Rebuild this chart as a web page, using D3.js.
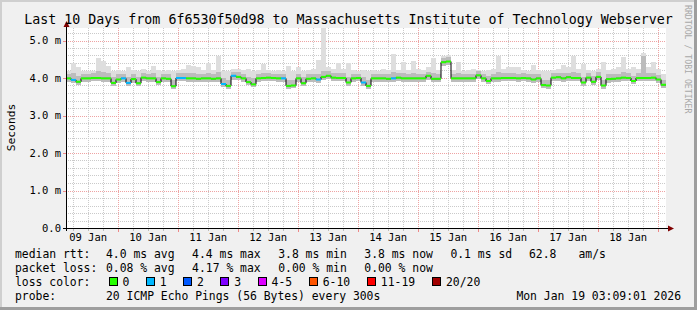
<!DOCTYPE html>
<html lang="en">
<meta charset="utf-8">
<style>
body { margin: 0; }
svg text { font-family: "DejaVu Sans Mono", monospace; white-space: pre; }
</style>
<body>
<svg width="697" height="310"></svg>
<script src="https://d3js.org/d3.v7.min.js"></script>
<script>

// median rtt (ms), one value every 2 hours from Jan 9 03:09 to Jan 19 03:09
var med = [
  3.99,3.95,3.90,3.99,3.99,4.00,4.00,3.99,3.99,3.87,
  3.96,3.99,3.87,3.97,3.86,4.01,3.99,3.99,3.89,3.99,
  3.98,3.78,4.00,4.00,3.99,3.99,3.98,3.99,3.99,3.98,
  3.99,3.84,3.79,4.06,4.03,3.99,3.89,3.83,3.99,4.00,
  4.01,4.00,3.99,3.99,3.79,3.80,3.99,3.86,3.98,3.99,
  3.96,4.03,4.06,4.01,4.00,4.00,3.88,3.99,4.00,3.88,
  3.79,3.99,3.99,3.99,3.98,3.99,4.01,3.99,3.99,3.99,
  3.99,3.99,4.06,3.98,3.98,4.42,4.44,3.99,3.99,3.99,
  3.99,3.99,4.07,3.99,3.92,3.99,3.99,4.00,4.00,4.00,
  3.99,4.00,3.99,3.96,3.99,3.81,3.80,4.01,4.02,3.99,
  4.02,4.00,4.00,3.88,4.01,3.90,4.03,3.80,3.97,3.98,
  3.99,4.01,4.00,3.92,4.00,4.00,4.00,4.01,3.96,3.82
];

// lost pings (of 20) per step
var loss = [
  0,1,0,0,0,0,0,0,0,0, 0,1,1,0,0,0,0,0,0,0,
  0,0,1,1,0,0,0,0,0,0, 0,1,0,1,0,0,0,0,0,0,
  0,0,0,1,0,0,0,0,0,0, 1,0,0,0,0,0,0,0,0,1,
  0,0,0,0,0,1,0,0,0,0, 0,0,0,0,0,0,0,0,0,0,
  0,0,0,0,0,0,0,0,0,0, 0,0,0,0,0,0,0,0,0,0,
  0,0,0,0,0,0,0,0,0,0, 0,0,0,0,0,0,0,0,0,0
];

// smoke: lowest ping, 90th percentile, highest ping
var lo = [
  3.90,3.86,3.82,3.90,3.90,3.91,3.91,3.90,3.90,3.80,
  3.87,3.90,3.79,3.88,3.78,3.92,3.90,3.90,3.81,3.90,
  3.89,3.72,3.91,3.91,3.90,3.90,3.89,3.90,3.90,3.89,
  3.90,3.76,3.72,3.96,3.94,3.90,3.81,3.76,3.90,3.91,
  3.92,3.91,3.90,3.90,3.72,3.73,3.90,3.79,3.89,3.90,
  3.87,3.94,3.97,3.92,3.91,3.91,3.80,3.90,3.91,3.80,
  3.72,3.90,3.90,3.90,3.89,3.90,3.92,3.90,3.90,3.90,
  3.90,3.90,3.96,3.89,3.89,4.32,4.34,3.90,3.90,3.90,
  3.90,3.90,3.97,3.90,3.84,3.90,3.90,3.91,3.91,3.91,
  3.90,3.91,3.90,3.87,3.90,3.73,3.72,3.92,3.93,3.90,
  3.93,3.91,3.91,3.80,3.92,3.82,3.94,3.72,3.88,3.89,
  3.90,3.92,3.91,3.84,3.91,3.91,3.91,3.92,3.87,3.74
];
var q90 = [
  4.12,4.14,4.06,4.12,4.12,4.13,4.18,4.16,4.14,4.02,
  4.10,4.12,4.04,4.10,4.02,4.14,4.12,4.13,4.04,4.12,
  4.11,3.95,4.13,4.13,4.14,4.14,4.12,4.12,4.14,4.11,
  4.15,4.00,3.95,4.17,4.15,4.12,4.04,3.99,4.12,4.14,
  4.13,4.12,4.12,4.12,3.96,3.96,4.12,4.02,4.11,4.12,
  4.12,4.20,4.18,4.13,4.14,4.13,4.04,4.12,4.12,4.04,
  3.95,4.12,4.12,4.12,4.11,4.15,4.13,4.14,4.12,4.14,
  4.12,4.12,4.17,4.14,4.11,4.54,4.56,4.12,4.14,4.12,
  4.12,4.12,4.18,4.12,4.06,4.12,4.16,4.13,4.14,4.13,
  4.12,4.13,4.12,4.12,4.12,3.96,3.95,4.13,4.14,4.13,
  4.14,4.15,4.13,4.04,4.13,4.05,4.15,3.96,4.10,4.11,
  4.12,4.16,4.13,4.06,4.13,4.60,4.14,4.14,4.09,3.96
];
var hi = [
  4.20,4.40,4.30,4.18,4.20,4.20,4.54,4.45,4.33,4.20,
  4.22,4.20,4.30,4.22,4.20,4.25,4.20,4.33,4.22,4.20,
  4.22,4.20,4.22,4.25,4.35,4.33,4.30,4.22,4.40,4.22,
  4.60,4.20,4.18,4.25,4.25,4.22,4.25,4.20,4.22,4.38,
  4.22,4.20,4.22,4.20,4.33,4.20,4.30,4.20,4.22,4.25,
  4.47,5.33,4.30,4.25,4.39,4.25,4.39,4.22,4.20,4.22,
  4.20,4.22,4.20,4.25,4.22,4.65,4.22,4.42,4.22,4.45,
  4.25,4.22,4.30,4.54,4.22,4.60,4.62,4.22,4.43,4.20,
  4.22,4.25,4.22,4.20,4.22,4.25,4.60,4.25,4.30,4.30,
  4.30,4.22,4.20,4.35,4.22,4.20,4.18,4.22,4.25,4.35,
  4.30,4.60,4.25,4.38,4.22,4.20,4.25,4.43,4.22,4.25,
  4.30,4.56,4.25,4.30,4.25,4.66,4.30,4.42,4.25,4.10
];

var lossLabels = ["0", "1", "2", "3", "4-5", "6-10", "11-19", "20/20"];
var lossColors = ["#26ff00", "#00b8ff", "#0059ff", "#7e00ff", "#dd00ff", "#ff5500", "#ff0000", "#a10000"];
var rttStats = ["4.0 ms avg", "4.4 ms max", "3.8 ms min", "3.8 ms now", "0.1 ms sd"];
var lossStats = ["0.08 % avg", "4.17 % max", "0.00 % min", "0.00 % now"];
var yTicks = [0, 1, 2, 3, 4, 5];

var svg = d3.select("svg"),
    width = +svg.attr("width"),
    height = +svg.attr("height");

var start = new Date(2026, 0, 9, 3, 9, 1),
    end = new Date(2026, 0, 19, 3, 9, 1);

var x = d3.scaleTime().domain([start, end]).range([66, 666]);
var y = d3.scaleLinear().domain([0, 16 / 3]).range([228, 28]);

// frame
svg.append("rect").attr("width", width).attr("height", height).attr("fill", "#f0f0f0");
svg.append("path").attr("d", "M0,1H696M1,0V309").attr("stroke", "#cfcfcf").attr("stroke-width", 2).attr("fill", "none");
svg.append("path").attr("d", "M0,308.5H697M695.5,0V310").attr("stroke", "#9e9e9e").attr("stroke-width", 3).attr("fill", "none");
svg.append("rect").attr("x", 66).attr("y", 28).attr("width", 600).attr("height", 200).attr("fill", "#fff");

// grid
var grid = svg.append("g").attr("shape-rendering", "crispEdges").attr("stroke-dasharray", "1,1");
d3.range(0, 5.3, 0.2).forEach(function(v) {
  var major = Math.abs(v - Math.round(v)) < 1e-6;
  var py = Math.round(y(v)) + 0.5;
  if (v === 0) return;
  grid.append("line").attr("x1", 66).attr("x2", 666).attr("y1", py).attr("y2", py)
      .attr("stroke", major ? "#eea3a3" : "#cacaca");
});
d3.timeHour.every(6).range(start, end).forEach(function(t) {
  var major = t.getHours() === 0;
  var px = Math.round(x(t)) + 0.5;
  grid.append("line").attr("x1", px).attr("x2", px).attr("y1", 28).attr("y2", 228)
      .attr("stroke", major ? "#eea3a3" : "#cacaca");
  svg.append("line").attr("x1", px).attr("x2", px).attr("y1", 229).attr("y2", major ? 232 : 231)
      .attr("stroke", major ? "#e88" : "#bbb").attr("shape-rendering", "crispEdges");
});

// smoke and median
var pts = med.map(function(m, i) {
  return {t: d3.timeHour.offset(start, 2 * i), med: m, lo: lo[i], q90: q90[i], hi: hi[i], loss: loss[i]};
});
var stepPts = pts.concat([Object.assign({}, pts[pts.length - 1], {t: end})]);

svg.append("path").datum(stepPts)
    .attr("fill", "#dedede")
    .attr("shape-rendering", "crispEdges")
    .attr("d", d3.area().curve(d3.curveStepAfter)
        .x(function(d) { return x(d.t); })
        .y0(function(d) { return y(d.lo); })
        .y1(function(d) { return y(d.hi); }));
svg.append("path").datum(stepPts)
    .attr("fill", "#bcbcbc")
    .attr("shape-rendering", "crispEdges")
    .attr("d", d3.area().curve(d3.curveStepAfter)
        .x(function(d) { return x(d.t); })
        .y0(function(d) { return y(d.lo); })
        .y1(function(d) { return y(d.q90); }));

var medLine = d3.line().curve(d3.curveStepAfter)
    .x(function(d) { return x(d.t); })
    .y(function(d) { return y(d.med); });
svg.append("path").datum(stepPts).attr("fill", "none").attr("stroke", "#000")
    .attr("stroke-width", 1).attr("stroke-linejoin", "bevel").attr("d", medLine);

svg.append("g").selectAll("line").data(pts).enter().append("line")
    .attr("x1", function(d) { return x(d.t); })
    .attr("x2", function(d, i) { return x(stepPts[i + 1].t); })
    .attr("y1", function(d) { return y(d.med); })
    .attr("y2", function(d) { return y(d.med); })
    .attr("stroke", function(d) { return lossColors[d.loss]; })
    .attr("stroke-width", 2);

// axes
svg.append("path").attr("d", "M63,228.5H669M66.5,231V26").attr("stroke", "#000").attr("fill", "none").attr("shape-rendering", "crispEdges");
svg.append("path").attr("d", "M668,225.5L674,228.5L668,231.5Z").attr("fill", "#7f0000");
svg.append("path").attr("d", "M63.5,27L66.5,21L69.5,27Z").attr("fill", "#7f0000");

yTicks.forEach(function(v) {
  var py = Math.round(y(v)) + 0.5;
  svg.append("line").attr("x1", 63).attr("x2", 66).attr("y1", py).attr("y2", py)
      .attr("stroke", v === 0 ? "#000" : "#e88").attr("shape-rendering", "crispEdges");
  svg.append("text").attr("x", 61).attr("y", y(v) + 3.8).attr("text-anchor", "end")
      .attr("font-size", "10.5px")
      .text(v === 0 ? "0.0" : v.toFixed(1) + " m");
});

d3.timeDay.range(d3.timeDay.floor(start), end).forEach(function(d) {
  var noon = d3.timeHour.offset(d, 12);
  if (noon > end) return;
  svg.append("text").attr("x", x(noon)).attr("y", 241).attr("text-anchor", "middle")
      .attr("font-size", "10.5px").text(d3.timeFormat("%d %b")(d));
});

// titles
svg.append("text").attr("x", 348.5).attr("y", 23.5).attr("text-anchor", "middle")
    .attr("font-size", "13.3px")
    .text("Last 10 Days from 6f6530f50d98 to Massachusetts Institute of Technology Webserver");
svg.append("text").attr("transform", "translate(14.5,127.5) rotate(-90)").attr("text-anchor", "middle")
    .attr("font-size", "11.3px").text("Seconds");
svg.append("text").attr("transform", "translate(685,5) rotate(90)")
    .attr("font-size", "8.2px").attr("fill", "#a8a8a8").text("RRDTOOL / TOBI OETIKER");

// legend
var row = [258.3, 272.2, 286, 300];
var lg = svg.append("g").attr("font-size", "11.4px");
lg.append("text").attr("x", 15).attr("y", row[0]).text("median rtt:");
rttStats.forEach(function(s, i) {
  lg.append("text").attr("x", 106 + 86.1 * i).attr("y", row[0]).text(s);
});
lg.append("text").attr("x", 529).attr("y", row[0]).text("62.8");
lg.append("text").attr("x", 578.5).attr("y", row[0]).text("am/s");

lg.append("text").attr("x", 15).attr("y", row[1]).text("packet loss:");
lossStats.forEach(function(s, i) {
  lg.append("text").attr("x", 106 + 86.1 * i).attr("y", row[1]).text(s);
});

lg.append("text").attr("x", 15).attr("y", row[2]).text("loss color:");
var bx = 108.5;
lossLabels.forEach(function(s, i) {
  lg.append("rect").attr("x", bx + 0.5).attr("y", 277.5).attr("width", 8).attr("height", 8)
      .attr("fill", lossColors[i]).attr("stroke", "#000").attr("shape-rendering", "crispEdges");
  lg.append("text").attr("x", bx + 14).attr("y", row[2]).text(s);
  bx += 15 + s.length * 6.96 + 15.3;
});

lg.append("text").attr("x", 15).attr("y", row[3]).text("probe:");
lg.append("text").attr("x", 106).attr("y", row[3]).text("20 ICMP Echo Pings (56 Bytes) every 300s");
lg.append("text").attr("x", 681).attr("y", row[3]).attr("text-anchor", "end").text("Mon Jan 19 03:09:01 2026");

</script>
</body>
</html>
